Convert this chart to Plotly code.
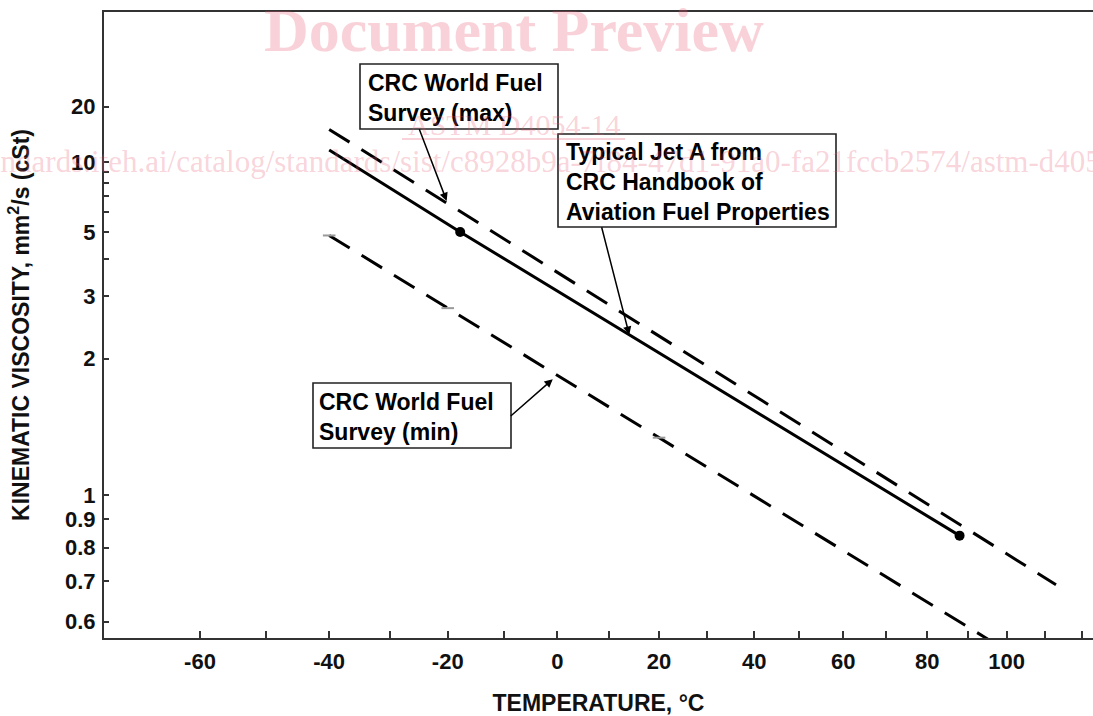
import numpy as np
import plotly.graph_objects as go

# ---------------- data ----------------
# Typical Jet A (CRC Handbook) – solid line with two data points
typ_temp = [-40, -17.8, 88]        # deg C
typ_visc = [11.5, 5.0, 0.84]       # mm2/s
pt_temp = [-17.8, 88]
pt_visc = [5.0, 0.84]
# CRC World Fuel Survey (max) – dashed
max_temp = [-40, 113]
max_visc = [14.8, 0.69]
# CRC World Fuel Survey (min) – dashed
min_temp = [-40, 100]
min_visc = [4.85, 0.54]
# small grey marks sitting on the min curve
gray_temp = [-40, -20, 20]

x_tick_temps = list(range(-60, 121, 10))
x_tick_labels = [str(t) if (t % 20 == 0 and t <= 100) else "" for t in x_tick_temps]
y_tick_visc = [20, 10, 9, 8, 7, 6, 5, 4, 3, 2, 1, 0.9, 0.8, 0.7, 0.6]
y_tick_labels = ["20", "10", "", "", "", "", "5", "", "3", "2", "1", "0.9", "0.8", "0.7", "0.6"]

# ---------------- ASTM D341 scales ----------------
def vz(v):
    v = np.asarray(v, dtype=float)
    z = v + 0.7 + np.exp(-1.47 - 1.84 * v - 0.51 * v ** 2)
    return np.log10(np.log10(z))

def tk(t):
    return np.asarray(t, dtype=float) + 273.15

def on_line(t, temps, viscs):
    return float(np.interp(np.log10(tk(t)), np.log10(tk(temps)), vz(viscs)))

# plot-area pixel helpers (for layout-only items)
PL, PT, PR, PB = 104, 12, 1093, 638
def pxx(x):
    return (x - PL) / (PR - PL)
def pxy(y):
    return (PB - y) / (PB - PT)

FONT = "Liberation Sans, Arial, Helvetica, sans-serif"
SERIF = "Liberation Serif, Times New Roman, serif"
DASH = "24px,14px"

fig = go.Figure()
fig.add_trace(go.Scatter(x=tk(max_temp), y=vz(max_visc), mode="lines",
                         line=dict(color="black", width=3, dash=DASH), hoverinfo="skip"))
fig.add_trace(go.Scatter(x=tk(min_temp), y=vz(min_visc), mode="lines",
                         line=dict(color="black", width=3, dash=DASH), hoverinfo="skip"))
fig.add_trace(go.Scatter(x=tk(typ_temp), y=vz(typ_visc), mode="lines",
                         line=dict(color="black", width=3), hoverinfo="skip"))
fig.add_trace(go.Scatter(x=tk(pt_temp), y=vz(pt_visc), mode="markers",
                         marker=dict(color="black", size=10), hoverinfo="skip"))
fig.add_trace(go.Scatter(x=tk(gray_temp), y=[on_line(t, min_temp, min_visc) for t in gray_temp],
                         mode="markers",
                         marker=dict(symbol="line-ew", size=9, line=dict(color="#9a9a9a", width=2)),
                         hoverinfo="skip"))

# ---------------- label boxes ----------------
boxes = [
    (360, 64, 558, 129, 366, "CRC World Fuel<br>Survey (max)"),
    (558, 134, 836, 227, 564, "Typical Jet A from<br>CRC Handbook of<br>Aviation Fuel Properties"),
    (313, 383, 511, 448, 317, "CRC World Fuel<br>Survey (min)"),
]
shapes = []
annotations = []
for x0, y0, x1, y1, tx, txt in boxes:
    shapes.append(dict(type="rect", xref="paper", yref="paper",
                       x0=pxx(x0), x1=pxx(x1), y0=pxy(y1), y1=pxy(y0),
                       line=dict(color="#222", width=1.6), fillcolor="white", layer="above"))
    annotations.append(dict(xref="paper", yref="paper", x=pxx(tx), y=pxy((y0 + y1) / 2 + 1),
                            xanchor="left", yanchor="middle", align="left", showarrow=False,
                            text=txt, font=dict(family=FONT, size=23, color="black", weight="bold")))

# arrows: (temperature, curve, ax, ay, standoff)
arrows = [
    (-20, max_temp, max_visc, -29, -76, 3),
    (14, typ_temp, typ_visc, -28, -109, 0),
    (0, min_temp, min_visc, -48, 42, 6),
]
for t, ct, cv, ax, ay, so in arrows:
    annotations.append(dict(x=float(np.log10(tk(t))), y=on_line(t, ct, cv), xref="x", yref="y",
                            ax=ax, ay=ay, text="", showarrow=True, arrowhead=2, arrowsize=1.1,
                            arrowwidth=1.5, arrowcolor="black", standoff=so))

# ---------------- watermark ----------------
WM = "rgba(232,90,115,0.27)"
annotations.append(dict(xref="paper", yref="paper", x=pxx(514), y=pxy(30), showarrow=False,
                        text="Document Preview", xanchor="center", yanchor="middle",
                        font=dict(family=SERIF, size=62, color=WM, weight="bold")))
annotations.append(dict(xref="paper", yref="paper", x=pxx(514), y=pxy(125), showarrow=False,
                        text="ASTM D4054-14", xanchor="center", yanchor="middle",
                        font=dict(family=SERIF, size=30, color=WM)))
annotations.append(dict(xref="paper", yref="paper", x=pxx(-122), y=pxy(161), showarrow=False,
                        text="https://standards.iteh.ai/catalog/standards/sist/c8928b9a-7f84-47d1-91a0-fa21fccb2574/astm-d4054-14",
                        xanchor="left", yanchor="middle",
                        font=dict(family=SERIF, size=31, color=WM)))
shapes.append(dict(type="line", xref="paper", yref="paper", x0=pxx(402), x1=pxx(625),
                   y0=pxy(139), y1=pxy(139), line=dict(color=WM, width=2), layer="above"))

fig.update_layout(
    width=1093, height=716,
    margin=dict(l=PL, r=0, t=PT, b=716 - PB, pad=0),
    paper_bgcolor="white", plot_bgcolor="white",
    showlegend=False,
    shapes=shapes, annotations=annotations,
    xaxis=dict(type="log", range=[np.log10(199.41), np.log10(396.2)], automargin=False,
               tickmode="array", tickvals=tk(x_tick_temps), ticktext=x_tick_labels,
               ticks="inside", ticklen=7, tickwidth=2, tickcolor="#333",
               showline=True, linecolor="#333", linewidth=2, mirror=True,
               showgrid=False, zeroline=False, ticklabelstandoff=3,
               tickfont=dict(family=FONT, size=22, color="#111", weight="bold"),
               title=dict(text="TEMPERATURE, °C", standoff=22,
                          font=dict(family=FONT, size=23, color="#111", weight="bold"))),
    yaxis=dict(range=[-0.9022, 0.3014], automargin=False,
               tickmode="array", tickvals=vz(y_tick_visc), ticktext=y_tick_labels,
               ticks="inside", ticklen=5, tickwidth=2, tickcolor="#333",
               showline=True, linecolor="#333", linewidth=2, mirror=False,
               showgrid=False, zeroline=False, ticklabelstandoff=2,
               tickfont=dict(family=FONT, size=22, color="#111", weight="bold"),
               title=dict(text="KINEMATIC VISCOSITY, mm<sup>2</sup>/s (cSt)", standoff=29,
                          font=dict(family=FONT, size=23, color="#111", weight="bold"))),
)

fig.write_html("out.html", config={"displayModeBar": False},
               post_script="document.body.style.margin='0';document.body.style.overflow='hidden';")
